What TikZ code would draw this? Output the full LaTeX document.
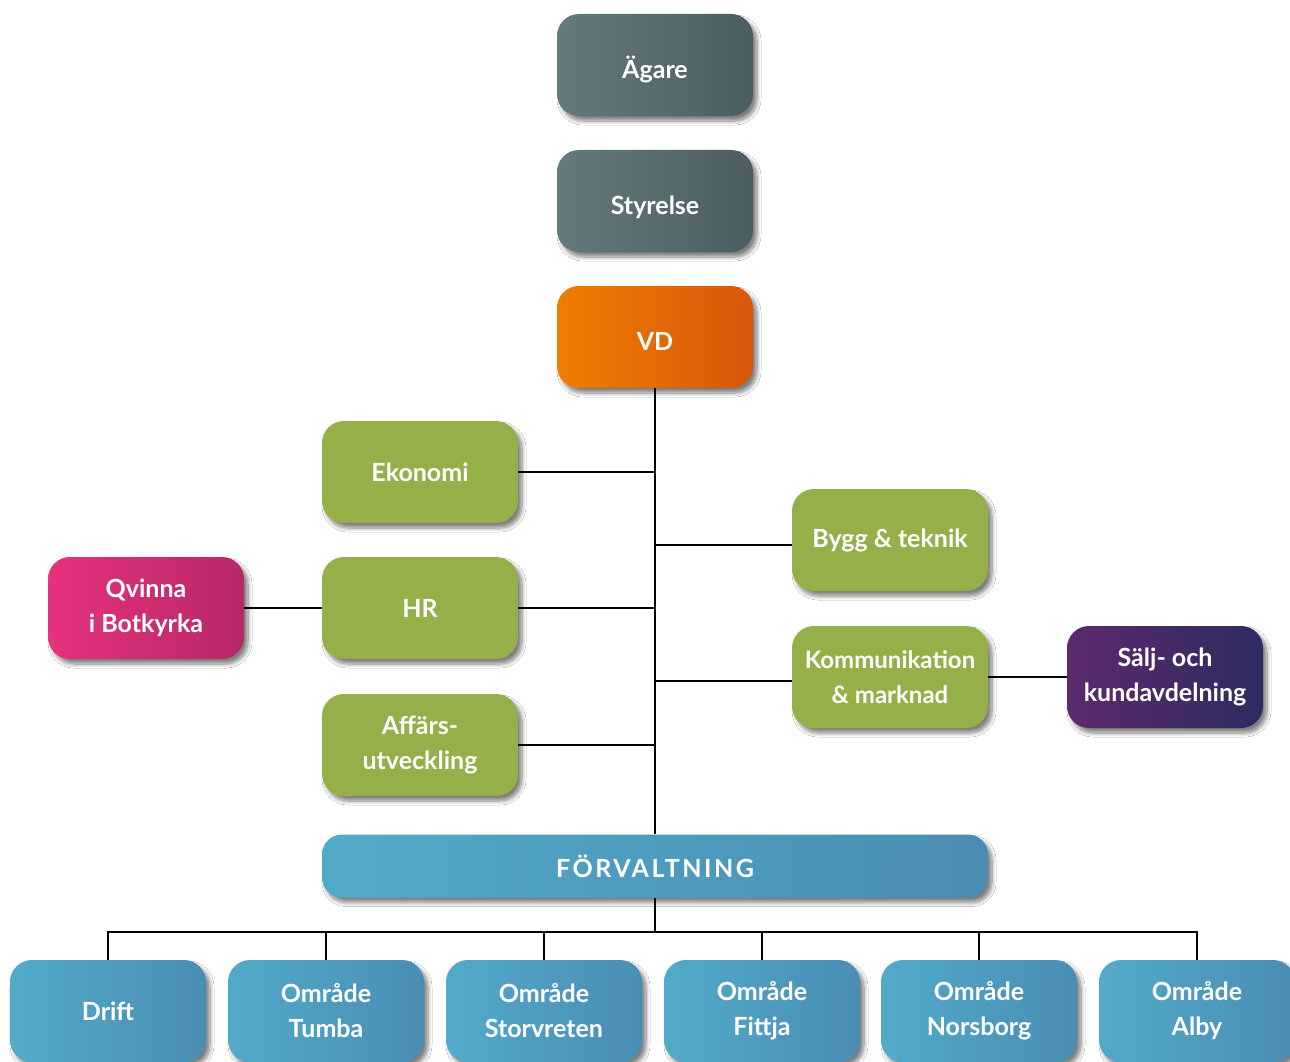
\documentclass[tikz,border=0pt]{standalone}
\usepackage{fontspec}
\setmainfont{Lato}
\usetikzlibrary{shadows.blur}
\definecolor{grayL}{RGB}{100,122,125}
\definecolor{grayR}{RGB}{76,93,97}
\definecolor{orL}{RGB}{238,126,0}
\definecolor{orR}{RGB}{217,86,12}
\definecolor{grn}{RGB}{149,176,73}
\definecolor{pkL}{RGB}{229,51,125}
\definecolor{pkR}{RGB}{184,39,102}
\definecolor{puL}{RGB}{92,42,108}
\definecolor{puR}{RGB}{46,43,96}
\definecolor{blL}{RGB}{82,170,201}
\definecolor{blR}{RGB}{74,141,180}
\begin{document}
\begin{tikzpicture}[x=1pt,y=-1pt,
  box/.style={rounded corners=22pt, minimum width=196pt, minimum height=102pt,
    align=center, text=white, inner sep=0pt,
    font=\bfseries\fontsize{25}{35}\selectfont,
    blur shadow={shadow xshift=4pt, shadow yshift=-5pt, shadow blur steps=8,
      shadow opacity=50, shadow blur radius=4pt}},
  lowtext/.style={text height=27pt, text depth=0pt},
  graybox/.style={box, left color=grayL, right color=grayR},
  orbox/.style={box, left color=orL, right color=orR},
  grbox/.style={box, fill=grn},
  pkbox/.style={box, left color=pkL, right color=pkR},
  pubox/.style={box, left color=puL, right color=puR},
  blbox/.style={box, left color=blL, right color=blR},
  conn/.style={line width=2.2pt, black}]
\clip (0,0) rectangle (1290,1062);
\fill[white] (0,0) rectangle (1290,1062);

\node[graybox, lowtext] (agare) at (655,65) {Ägare};
\node[graybox, lowtext] (styr) at (655,201) {Styrelse};
\node[orbox, lowtext] (vd) at (655,337) {VD};

\node[grbox] (eko) at (420,472) {Ekonomi};
\node[grbox] (hr) at (420,608) {HR};
\node[grbox] (aff) at (420,745) {Affärs-\\utveckling};
\node[pkbox] (qvi) at (146,608) {Qvinna\\i Botkyrka};

\node[grbox] (bygg) at (890,540) {Bygg \& teknik};
\node[grbox, font=\bfseries\fontsize{24}{35}\selectfont] (komm) at (890,677) {Kommunikation\\\& marknad};
\node[pubox] (salj) at (1165,677) {Sälj- och\\kundavdelning};

\node[blbox, minimum width=666pt, minimum height=63pt, rounded corners=20pt,
  font=\bfseries\fontsize{25}{35}\selectfont\addfontfeatures{LetterSpace=10}] (forv) at (655,866) {FÖRVALTNING};

\node[blbox] (drift) at (108,1011) {Drift};
\node[blbox] (tumba) at (326,1011) {Område\\Tumba};
\node[blbox] (storv) at (544,1011) {Område\\Storvreten};
\node[blbox] (fittja) at (762,1011) {Område\\Fittja};
\node[blbox] (nors) at (979,1011) {Område\\Norsborg};
\node[blbox] (alby) at (1197,1011) {Område\\Alby};

\draw[conn] (vd.south) -- (forv.north);
\draw[conn] (eko.east) -- (eko.east -| vd.south);
\draw[conn] (hr.east) -- (hr.east -| vd.south);
\draw[conn] (aff.east) -- (aff.east -| vd.south);
\draw[conn] (qvi.east) -- (hr.west);
\draw[conn] ([yshift=-5pt]bygg.west) -- ([yshift=-5pt]bygg.west -| vd.south);
\draw[conn] ([yshift=-4pt]komm.west) -- ([yshift=-4pt]komm.west -| vd.south);
\draw[conn] (komm.east) -- (salj.west);

\coordinate (bus) at (655,932);
\draw[conn] (forv.south) -- (bus);
\draw[conn] (drift.north) -- (drift.north |- bus) -- (alby.north |- bus) -- (alby.north);
\draw[conn] (tumba.north) -- (tumba.north |- bus);
\draw[conn] (storv.north) -- (storv.north |- bus);
\draw[conn] (fittja.north) -- (fittja.north |- bus);
\draw[conn] (nors.north) -- (nors.north |- bus);
\end{tikzpicture}
\end{document}
